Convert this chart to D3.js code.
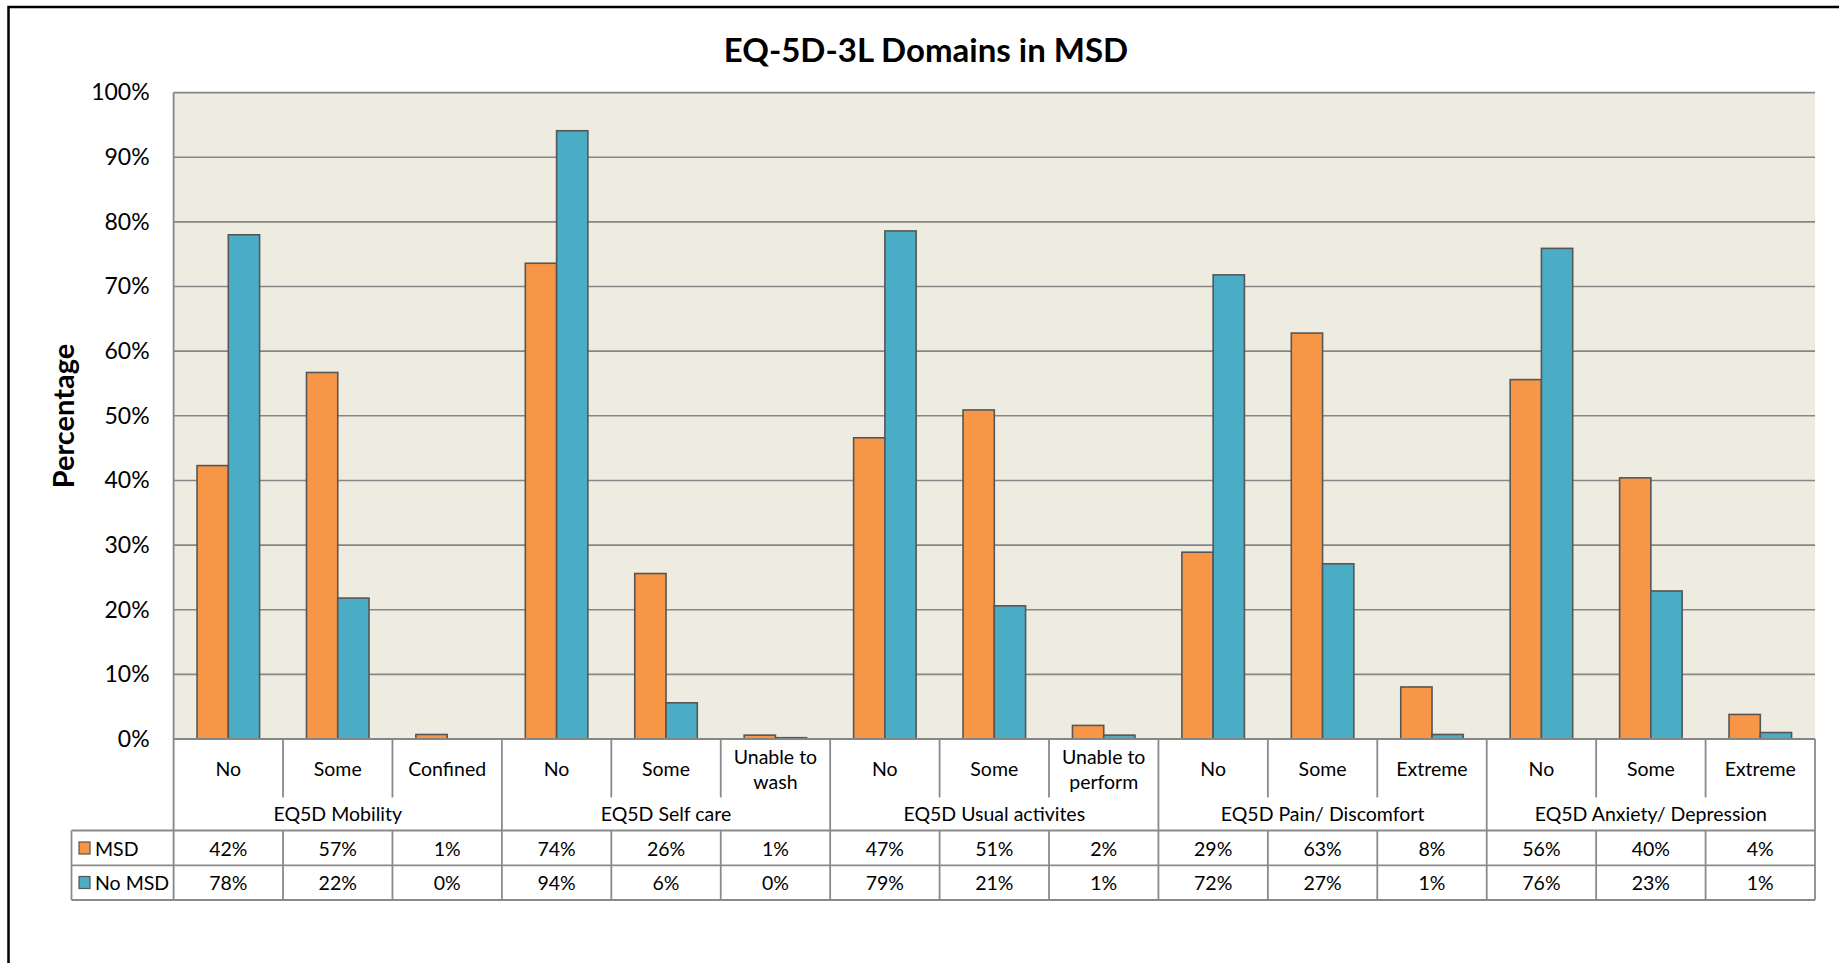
<!DOCTYPE html>
<html>
<head>
<meta charset="utf-8">
<script src="https://cdn.jsdelivr.net/npm/d3@7"></script>
<style>
  html, body { margin: 0; padding: 0; background: #ffffff; }
  svg { display: block; font-family: Lato, "Open Sans", sans-serif; }
</style>
</head>
<body>
<svg id="chart" width="1839" height="963"></svg>
<script>
// EQ-5D-3L domain responses, patients with and without MSD (percent)
const groups = ["EQ5D Mobility", "EQ5D Self care", "EQ5D Usual activites", "EQ5D Pain/ Discomfort", "EQ5D Anxiety/ Depression"];
const levels = [
  [["No"], ["Some"], ["Confined"]],
  [["No"], ["Some"], ["Unable to", "wash"]],
  [["No"], ["Some"], ["Unable to", "perform"]],
  [["No"], ["Some"], ["Extreme"]],
  [["No"], ["Some"], ["Extreme"]]
];
const seriesNames = ["MSD", "No MSD"];
const msd   = [42.3, 56.7, 0.7, 73.6, 25.6, 0.6, 46.6, 50.9, 2.1, 28.9, 62.8, 8.05, 55.6, 40.4, 3.8];
const noMsd = [78.0, 21.8, 0.0, 94.1, 5.6, 0.2, 78.6, 20.6, 0.6, 71.8, 27.1, 0.7, 75.9, 22.9, 1.0];
const yTicks = [0, 10, 20, 30, 40, 50, 60, 70, 80, 90, 100];

const colors = { "MSD": "#F79646", "No MSD": "#4BACC6" };
const gridColor = "#868686";
const tableColor = "#8a8a8a";

// Flatten groups into one row of categories
const cats = [];
groups.forEach((g, gi) => levels[gi].forEach((lv, li) => cats.push({ key: gi + "-" + li, group: g, gi, lines: lv })));
const values = { "MSD": msd, "No MSD": noMsd };

const svg = d3.select("#chart");

// Layout
const plot = { left: 173.6, right: 1815, top: 92.6, bottom: 739 };
const catRowBottom = 797.5, groupRowBottom = 830.5, row1Bottom = 865.3, row2Bottom = 900;
const legendLeft = 71.5;

const x = d3.scaleBand().domain(cats.map(c => c.key)).range([plot.left, plot.right]).paddingInner(0).paddingOuter(0);
const xs = d3.scaleBand().domain(seriesNames).range([0, x.bandwidth()]).paddingInner(0).paddingOuter(0.75);
const y = d3.scaleLinear().domain([0, 100]).range([plot.bottom, plot.top]);

// Outer frame
svg.append("rect").attr("x", 8.5).attr("y", 7).attr("width", 1900).attr("height", 1000)
  .attr("fill", "#ffffff").attr("stroke", "#000000").attr("stroke-width", 2.5);

// Plot area
svg.append("rect").attr("x", plot.left).attr("y", plot.top)
  .attr("width", plot.right - plot.left).attr("height", plot.bottom - plot.top)
  .attr("fill", "#EEECE1");

// Gridlines
svg.append("g").selectAll("line").data(yTicks.filter(t => t > 0)).join("line")
  .attr("x1", plot.left).attr("x2", plot.right)
  .attr("y1", d => y(d)).attr("y2", d => y(d))
  .attr("stroke", gridColor).attr("stroke-width", 1.6);

// Y axis labels
const yAxis = d3.axisLeft(y).tickValues(yTicks).tickFormat(d => d + "%").tickSize(0).tickPadding(0);
const yg = svg.append("g").attr("transform", `translate(${plot.left - 24},0)`).call(yAxis);
yg.select(".domain").remove();
yg.selectAll("text").attr("font-family", "Lato, sans-serif").attr("font-size", 23).attr("fill", "#000");

// Bars
const barG = svg.append("g");
seriesNames.forEach(s => {
  barG.append("g").selectAll("rect").data(cats.map((c, i) => ({ c, v: values[s][i] }))).join("rect")
    .attr("x", d => x(d.c.key) + xs(s))
    .attr("y", d => y(d.v))
    .attr("width", xs.bandwidth())
    .attr("height", d => y(0) - y(d.v))
    .attr("fill", colors[s])
    .attr("stroke", d => d.v > 0 ? "#565656" : "none")
    .attr("stroke-width", 1.6);
});

// Axis lines
svg.append("line").attr("x1", plot.left).attr("x2", plot.left).attr("y1", plot.top).attr("y2", row2Bottom)
  .attr("stroke", gridColor).attr("stroke-width", 1.8);
svg.append("line").attr("x1", plot.left).attr("x2", plot.right).attr("y1", plot.bottom).attr("y2", plot.bottom)
  .attr("stroke", gridColor).attr("stroke-width", 2);

// Data table
const tbl = svg.append("g").attr("stroke", tableColor).attr("stroke-width", 1.8);
// dividers between categories; group boundaries run the full table height
cats.forEach((c, i) => {
  if (i === 0) return;
  const xx = x(c.key);
  const groupStart = cats[i - 1].gi !== c.gi;
  tbl.append("line").attr("x1", xx).attr("x2", xx)
    .attr("y1", plot.bottom).attr("y2", groupStart ? row2Bottom : catRowBottom);
  if (!groupStart) {
    tbl.append("line").attr("x1", xx).attr("x2", xx).attr("y1", groupRowBottom).attr("y2", row2Bottom);
  }
});
// right edge
tbl.append("line").attr("x1", plot.right).attr("x2", plot.right).attr("y1", plot.bottom).attr("y2", row2Bottom);
// horizontal rows
[groupRowBottom, row1Bottom, row2Bottom].forEach(yy => {
  tbl.append("line").attr("x1", legendLeft).attr("x2", plot.right).attr("y1", yy).attr("y2", yy);
});
tbl.append("line").attr("x1", legendLeft).attr("x2", legendLeft).attr("y1", groupRowBottom).attr("y2", row2Bottom);

// Category labels
const catLabels = svg.append("g").attr("font-family", "Lato, sans-serif").attr("font-size", 19.5).attr("fill", "#000")
  .attr("text-anchor", "middle");
cats.forEach(c => {
  const cx = x(c.key) + x.bandwidth() / 2;
  const t = catLabels.append("text").attr("x", cx).attr("dominant-baseline", "central");
  if (c.lines.length === 1) {
    t.attr("y", 768).text(c.lines[0]);
  } else {
    c.lines.forEach((ln, k) => t.append("tspan").attr("x", cx).attr("y", 756 + k * 25).text(ln));
  }
});
// Group labels
groups.forEach((g, gi) => {
  const members = cats.filter(c => c.gi === gi);
  const x0 = x(members[0].key), x1 = x(members[members.length - 1].key) + x.bandwidth();
  catLabels.append("text").attr("x", (x0 + x1) / 2).attr("y", 813).attr("dominant-baseline", "central").text(g);
});

// Value rows with legend keys
const fmt = v => d3.format(".0f")(v) + "%";
const rowY = { "MSD": 848, "No MSD": 882.5 };
seriesNames.forEach(s => {
  const ry = rowY[s];
  svg.append("rect").attr("x", 79).attr("y", ry - 6).attr("width", 11).attr("height", 12)
    .attr("fill", colors[s]).attr("stroke", "#565656").attr("stroke-width", 1.2);
  svg.append("text").attr("x", 95).attr("y", ry).attr("dominant-baseline", "central")
    .attr("font-family", "Lato, sans-serif").attr("font-size", 19.5).text(s);
  svg.append("g").selectAll("text").data(cats.map((c, i) => ({ c, v: values[s][i] }))).join("text")
    .attr("x", d => x(d.c.key) + x.bandwidth() / 2)
    .attr("y", ry).attr("dominant-baseline", "central").attr("text-anchor", "middle")
    .attr("font-family", "Lato, sans-serif").attr("font-size", 19.5)
    .text(d => fmt(d.v));
});

// Titles
svg.append("text").attr("x", 926).attr("y", 49).attr("text-anchor", "middle").attr("dominant-baseline", "central")
  .attr("font-family", "Lato, sans-serif").attr("font-weight", "bold").attr("font-size", 33)
  .text("EQ-5D-3L Domains in MSD");
svg.append("text").attr("transform", "translate(62,416) rotate(-90)")
  .attr("text-anchor", "middle").attr("dominant-baseline", "central")
  .attr("font-family", "Lato, sans-serif").attr("font-weight", "bold").attr("font-size", 29)
  .text("Percentage");
</script>
</body>
</html>
